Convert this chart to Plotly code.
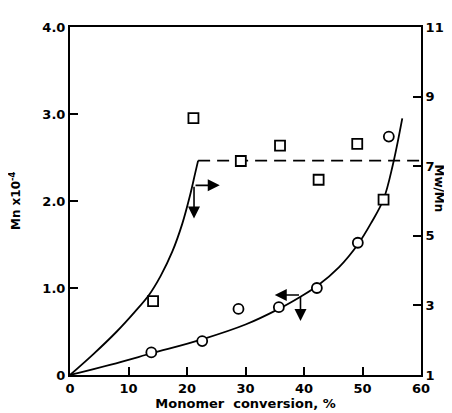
import plotly.graph_objects as go

# --- data ---
conv_mn = [13.9, 22.6, 28.8, 35.7, 42.2, 49.2, 54.5]          # circles, Mn x 10^-4
mn_vals = [0.26, 0.39, 0.76, 0.78, 1.00, 1.52, 2.74]

conv_pd = [14.2, 21.1, 29.2, 35.9, 42.5, 49.1, 53.6]          # squares, Mw/Mn
pd_vals = [3.12, 8.38, 7.15, 7.59, 6.61, 7.64, 6.04]

mn_curve_x = [0, 7.0, 14.0, 22.6, 30.0, 35.7, 39.4, 42.2, 46.0, 49.2, 51.5, 53.6, 55.2, 56.8]
mn_curve_y = [0, 0.12, 0.25, 0.41, 0.58, 0.76, 0.90, 1.02, 1.24, 1.50, 1.75, 2.02, 2.42, 2.95]

pd_curve_x = [0, 4.0, 8.0, 11.0, 13.5, 15.5, 17.5, 19.2, 20.5, 21.4, 21.9]
pd_curve_y = [1.0, 1.6, 2.25, 2.8, 3.3, 3.85, 4.55, 5.35, 6.15, 6.8, 7.16]

pd_plateau_x = [21.9, 60]
pd_plateau_y = [7.16, 7.16]

x_ticks = [0, 10, 20, 30, 40, 50, 60]
mn_ticks = [0, 1, 2, 3, 4]
mn_tick_text = ["0", "1.0", "2.0", "3.0", "4.0"]
pd_ticks = [1, 3, 5, 7, 9, 11]

# arrows: corner point and head positions
arrow1_corner = (21.2, 6.45)
arrow1_right = 25.6
arrow1_down = 5.5
arrow2_corner = (39.4, 0.92)
arrow2_left = 35.0
arrow2_down = 0.62

FONT = "DejaVu Sans"
TF = dict(family=FONT, size=13, color="black", weight="bold")
LF = dict(family=FONT, size=12, color="black", weight="bold")
fig = go.Figure()

fig.add_trace(go.Scatter(x=pd_curve_x, y=pd_curve_y, yaxis="y2", mode="lines",
                         line=dict(color="black", width=1.8, shape="spline", smoothing=1.0)))
fig.add_trace(go.Scatter(x=pd_plateau_x, y=pd_plateau_y, yaxis="y2", mode="lines",
                         line=dict(color="black", width=1.8, dash="12px,7px")))
fig.add_trace(go.Scatter(x=mn_curve_x, y=mn_curve_y, mode="lines",
                         line=dict(color="black", width=1.8, shape="spline", smoothing=1.0)))
fig.add_trace(go.Scatter(x=conv_mn, y=mn_vals, mode="markers",
                         marker=dict(symbol="circle", size=10, color="white",
                                     line=dict(color="black", width=1.8))))
fig.add_trace(go.Scatter(x=conv_pd, y=pd_vals, yaxis="y2", mode="markers",
                         marker=dict(symbol="square", size=10, color="white",
                                     line=dict(color="black", width=1.8))))

arr = dict(showarrow=True, arrowhead=2, arrowsize=1.5, arrowwidth=1.6,
           arrowcolor="black", text="")
anns = [
    dict(x=arrow1_right, y=arrow1_corner[1], ax=arrow1_corner[0], ay=arrow1_corner[1],
         xref="x", yref="y2", axref="x", ayref="y2", **arr),
    dict(x=arrow1_corner[0], y=arrow1_down, ax=arrow1_corner[0], ay=arrow1_corner[1],
         xref="x", yref="y2", axref="x", ayref="y2", **arr),
    dict(x=arrow2_left, y=arrow2_corner[1], ax=arrow2_corner[0], ay=arrow2_corner[1],
         xref="x", yref="y", axref="x", ayref="y", **arr),
    dict(x=arrow2_corner[0], y=arrow2_down, ax=arrow2_corner[0], ay=arrow2_corner[1],
         xref="x", yref="y", axref="x", ayref="y", **arr),
    dict(text="Mn x10<sup>-4</sup>", x=-0.185, y=0.5, xref="paper", yref="paper",
         textangle=-90, showarrow=False, font=LF),
    dict(text="Mw/Mn", x=1.078, y=0.535, xref="paper", yref="paper",
         textangle=90, showarrow=False, font=LF),
]

fig.update_layout(
    width=452, height=413,
    margin=dict(l=62, r=39, t=13, b=42),
    paper_bgcolor="white", plot_bgcolor="white",
    showlegend=False,
    font=dict(family=FONT, size=13, color="black"),
    annotations=anns,
    xaxis=dict(range=[0, 60], tickvals=x_ticks, ticks="inside", ticklen=8, tickwidth=2,
               tickcolor="black", showline=True, linecolor="black", linewidth=2,
               mirror=True, showgrid=False, zeroline=False, tickfont=TF,
               title=dict(text="Monomer  conversion, %", standoff=4,
                          font=dict(family=FONT, size=13, color="black", weight="bold"))),
    yaxis=dict(range=[0, 4], tickvals=mn_ticks, ticktext=mn_tick_text, ticks="inside",
               ticklen=8, tickwidth=2, tickcolor="black", showline=True,
               linecolor="black", linewidth=2, showgrid=False, zeroline=False,
               tickfont=TF),
    yaxis2=dict(range=[1, 11], tickvals=pd_ticks, overlaying="y", side="right",
                ticks="inside", ticklen=8, tickwidth=2, tickcolor="black",
                showline=True, linecolor="black", linewidth=2, showgrid=False,
                zeroline=False, tickfont=TF),
)

fig.write_html("out.html")
